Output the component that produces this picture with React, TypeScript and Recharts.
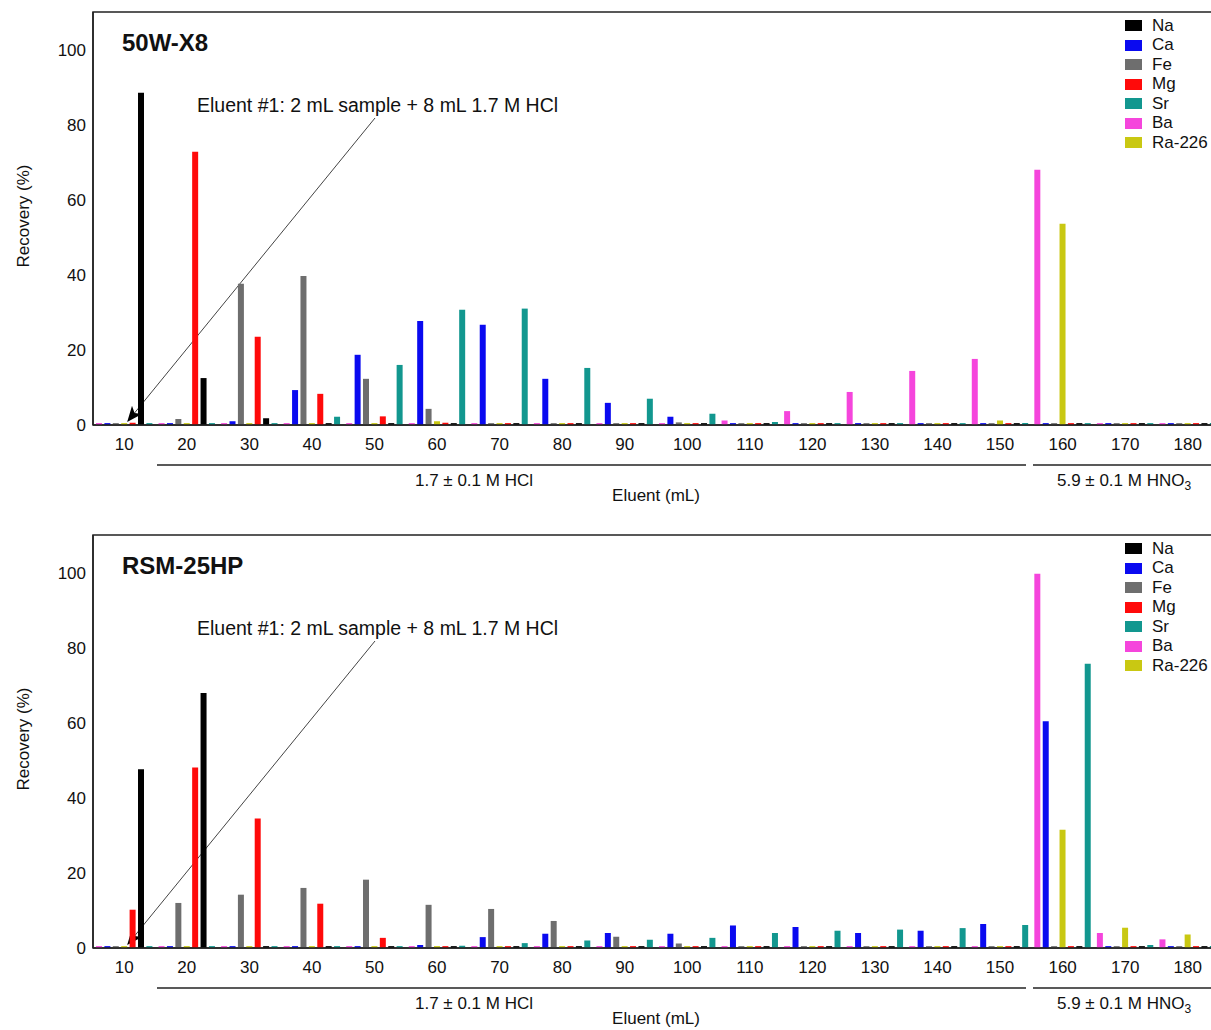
import React from "react";
import { Bar, BarChart, Customized, Legend, XAxis, YAxis } from "recharts";

const FONT = '"Liberation Sans", Arial, Helvetica, sans-serif';

const ELUENT = [10, 20, 30, 40, 50, 60, 70, 80, 90, 100, 110, 120, 130, 140, 150, 160, 170, 180];
const Y_TICKS = [0, 20, 40, 60, 80, 100];

// legend order vs. order of bars inside each fraction
const LEGEND_ORDER = ["Na", "Ca", "Fe", "Mg", "Sr", "Ba", "Ra-226"];
const BAR_ORDER = ["Ba", "Ca", "Fe", "Ra-226", "Mg", "Na", "Sr"];

const COLORS: Record<string, string> = {
  Na: "#000000",
  Ca: "#0a0af0",
  Fe: "#6e6e6e",
  Mg: "#ff0a0a",
  Sr: "#12978f",
  Ba: "#f545dc",
  "Ra-226": "#c9c812",
};

// 50W-X8 recovery (%)
const X8_NA = [88.5, 12.5, 1.8, 0.5, 0.5, 0.5, 0.5, 0.5, 0.5, 0.5, 0.5, 0.5, 0.5, 0.5, 0.5, 0.5, 0.5, 0.5];
const X8_CA = [0.5, 0.5, 1.0, 9.3, 18.7, 27.7, 26.7, 12.3, 5.9, 2.2, 0.5, 0.5, 0.5, 0.5, 0.5, 0.5, 0.5, 0.5];
const X8_FE = [0.5, 1.6, 37.6, 39.7, 12.3, 4.3, 0.5, 0.5, 0.5, 0.7, 0.5, 0.5, 0.5, 0.5, 0.5, 0.5, 0.5, 0.5];
const X8_MG = [0.6, 72.8, 23.5, 8.3, 2.3, 0.6, 0.5, 0.5, 0.5, 0.5, 0.5, 0.5, 0.5, 0.5, 0.5, 0.5, 0.5, 0.5];
const X8_SR = [0.5, 0.5, 0.5, 2.2, 16.0, 30.7, 31.0, 15.2, 7.0, 3.0, 0.8, 0.5, 0.5, 0.5, 0.5, 0.5, 0.5, 0.5];
const X8_BA = [0.5, 0.5, 0.5, 0.5, 0.5, 0.5, 0.5, 0.5, 0.5, 0.5, 1.2, 3.7, 8.8, 14.4, 17.6, 68.0, 0.5, 0.5];
const X8_RA = [0.5, 0.5, 0.5, 0.5, 0.5, 1.0, 0.5, 0.5, 0.5, 0.5, 0.5, 0.5, 0.5, 0.5, 1.2, 53.6, 0.5, 0.5];

// RSM-25HP recovery (%)
const HP_NA = [47.6, 67.9, 0.5, 0.5, 0.5, 0.5, 0.5, 0.5, 0.5, 0.5, 0.5, 0.5, 0.5, 0.5, 0.5, 0.5, 0.5, 0.5];
const HP_CA = [0.5, 0.5, 0.5, 0.5, 0.5, 0.8, 2.9, 3.8, 4.0, 3.8, 6.0, 5.6, 4.0, 4.6, 6.4, 60.4, 0.5, 0.5];
const HP_FE = [0.5, 12.0, 14.2, 16.0, 18.2, 11.5, 10.4, 7.2, 3.0, 1.2, 0.5, 0.5, 0.5, 0.5, 0.5, 0.5, 0.5, 0.5];
const HP_MG = [10.2, 48.1, 34.5, 11.8, 2.7, 0.5, 0.5, 0.5, 0.5, 0.5, 0.5, 0.5, 0.5, 0.5, 0.5, 0.5, 0.5, 0.5];
const HP_SR = [0.5, 0.5, 0.5, 0.5, 0.5, 0.6, 1.3, 2.0, 2.2, 2.7, 4.0, 4.6, 4.9, 5.3, 6.1, 75.7, 0.8, 0.5];
const HP_BA = [0.5, 0.5, 0.5, 0.5, 0.5, 0.5, 0.5, 0.5, 0.5, 0.5, 0.5, 0.5, 0.5, 0.5, 0.5, 99.7, 4.0, 2.3];
const HP_RA = [0.5, 0.5, 0.5, 0.5, 0.5, 0.5, 0.5, 0.5, 0.5, 0.5, 0.5, 0.5, 0.5, 0.5, 0.5, 31.5, 5.4, 3.6];

type Row = Record<string, number>;

function rows(na: number[], ca: number[], fe: number[], mg: number[], sr: number[], ba: number[], ra: number[]): Row[] {
  return ELUENT.map((ml, i) => ({
    ml,
    Na: na[i],
    Ca: ca[i],
    Fe: fe[i],
    Mg: mg[i],
    Sr: sr[i],
    Ba: ba[i],
    "Ra-226": ra[i],
  }));
}

const X8_DATA = rows(X8_NA, X8_CA, X8_FE, X8_MG, X8_SR, X8_BA, X8_RA);
const HP_DATA = rows(HP_NA, HP_CA, HP_FE, HP_MG, HP_SR, HP_BA, HP_RA);

const CHART_W = 1240;
const CHART_H = 520;
const X_AXIS_H = 30;
const PLOT = { left: 93, top: 12, right: 1219, bottom: 425 };

function LegendBox() {
  return (
    <div style={{ fontFamily: FONT, fontSize: 17, color: "#111" }}>
      {LEGEND_ORDER.map((k) => (
        <div key={k} style={{ display: "flex", alignItems: "center", height: 19.5 }}>
          <span style={{ display: "inline-block", width: 17, height: 11, background: COLORS[k], marginRight: 10 }} />
          <span>{k}</span>
        </div>
      ))}
    </div>
  );
}

function Overlay({ title, id }: { title: string; id: string }) {
  return (
    <g fontFamily={FONT} fill="#111">
      <defs>
        <marker id={id} viewBox="0 0 12 10" refX="11" refY="5" markerWidth="16" markerHeight="13" markerUnits="userSpaceOnUse" orient="auto">
          <path d="M0,0 L12,5 L0,10 L3,5 z" fill="#000" />
        </marker>
      </defs>
      <rect
        x={PLOT.left}
        y={PLOT.top}
        width={PLOT.right - PLOT.left}
        height={PLOT.bottom - PLOT.top}
        fill="none"
        stroke="#222"
        strokeWidth={1.5}
      />
      <text x={122} y={51} fontSize={24} fontWeight="bold">
        {title}
      </text>
      <text x={197} y={112} fontSize={19.5}>
        Eluent #1: 2 mL sample + 8 mL 1.7 M HCl
      </text>
      <line x1={375} y1={118} x2={128} y2={421} stroke="#444" strokeWidth={1} markerEnd={`url(#${id})`} />
      <text x={23} y={216} fontSize={17} textAnchor="middle" transform="rotate(-90 23 216)" dy="0.35em">
        Recovery (%)
      </text>
      <line x1={157} y1={465} x2={1026} y2={465} stroke="#222" strokeWidth={1.5} />
      <line x1={1033} y1={465} x2={1215} y2={465} stroke="#222" strokeWidth={1.5} />
      <text x={474} y={486} fontSize={17} textAnchor="middle">
        1.7 ± 0.1 M HCl
      </text>
      <text x={1057} y={486} fontSize={17}>
        5.9 ± 0.1 M HNO
        <tspan fontSize={12} dy={4}>
          3
        </tspan>
      </text>
      <text x={656} y={501} fontSize={17} textAnchor="middle">
        Eluent (mL)
      </text>
    </g>
  );
}

function Panel({ title, data, id }: { title: string; data: Row[]; id: string }) {
  return (
    <BarChart
      width={CHART_W}
      height={CHART_H}
      data={data}
      margin={{ top: PLOT.top, right: CHART_W - PLOT.right, bottom: CHART_H - PLOT.bottom - X_AXIS_H, left: 33 }}
      barCategoryGap={3}
      barGap={2.4}
    >
      <XAxis
        dataKey="ml"
        height={X_AXIS_H}
        tickLine={false}
        tickSize={6}
        tickMargin={7}
        axisLine={{ stroke: "#222", strokeWidth: 1.5 }}
        tick={{ fontSize: 17, fill: "#111", fontFamily: FONT }}
        interval={0}
      />
      <YAxis
        width={60}
        domain={[0, 110]}
        ticks={Y_TICKS}
        tickLine={false}
        tickSize={6}
        tickMargin={1}
        axisLine={{ stroke: "#222", strokeWidth: 1.5 }}
        tick={{ fontSize: 17, fill: "#111", fontFamily: FONT }}
      />
      {BAR_ORDER.map((k) => (
        <Bar key={k} dataKey={k} fill={COLORS[k]} isAnimationActive={false} />
      ))}
      <Legend
        layout="vertical"
        align="center"
        verticalAlign="middle"
        content={() => <LegendBox />}
        wrapperStyle={{ top: 16, left: 1125, width: 100, right: "auto", bottom: "auto" }}
      />
      <Customized component={() => <Overlay title={title} id={id} />} />
    </BarChart>
  );
}

export default function App() {
  return (
    <div style={{ position: "absolute", left: 0, top: 0, width: 1211, height: 1030, overflow: "hidden", background: "#fff" }}>
      <div style={{ position: "absolute", left: 0, top: 0 }}>
        <Panel title="50W-X8" data={X8_DATA} id="arrowTop" />
      </div>
      <div style={{ position: "absolute", left: 0, top: 523 }}>
        <Panel title="RSM-25HP" data={HP_DATA} id="arrowBottom" />
      </div>
    </div>
  );
}
